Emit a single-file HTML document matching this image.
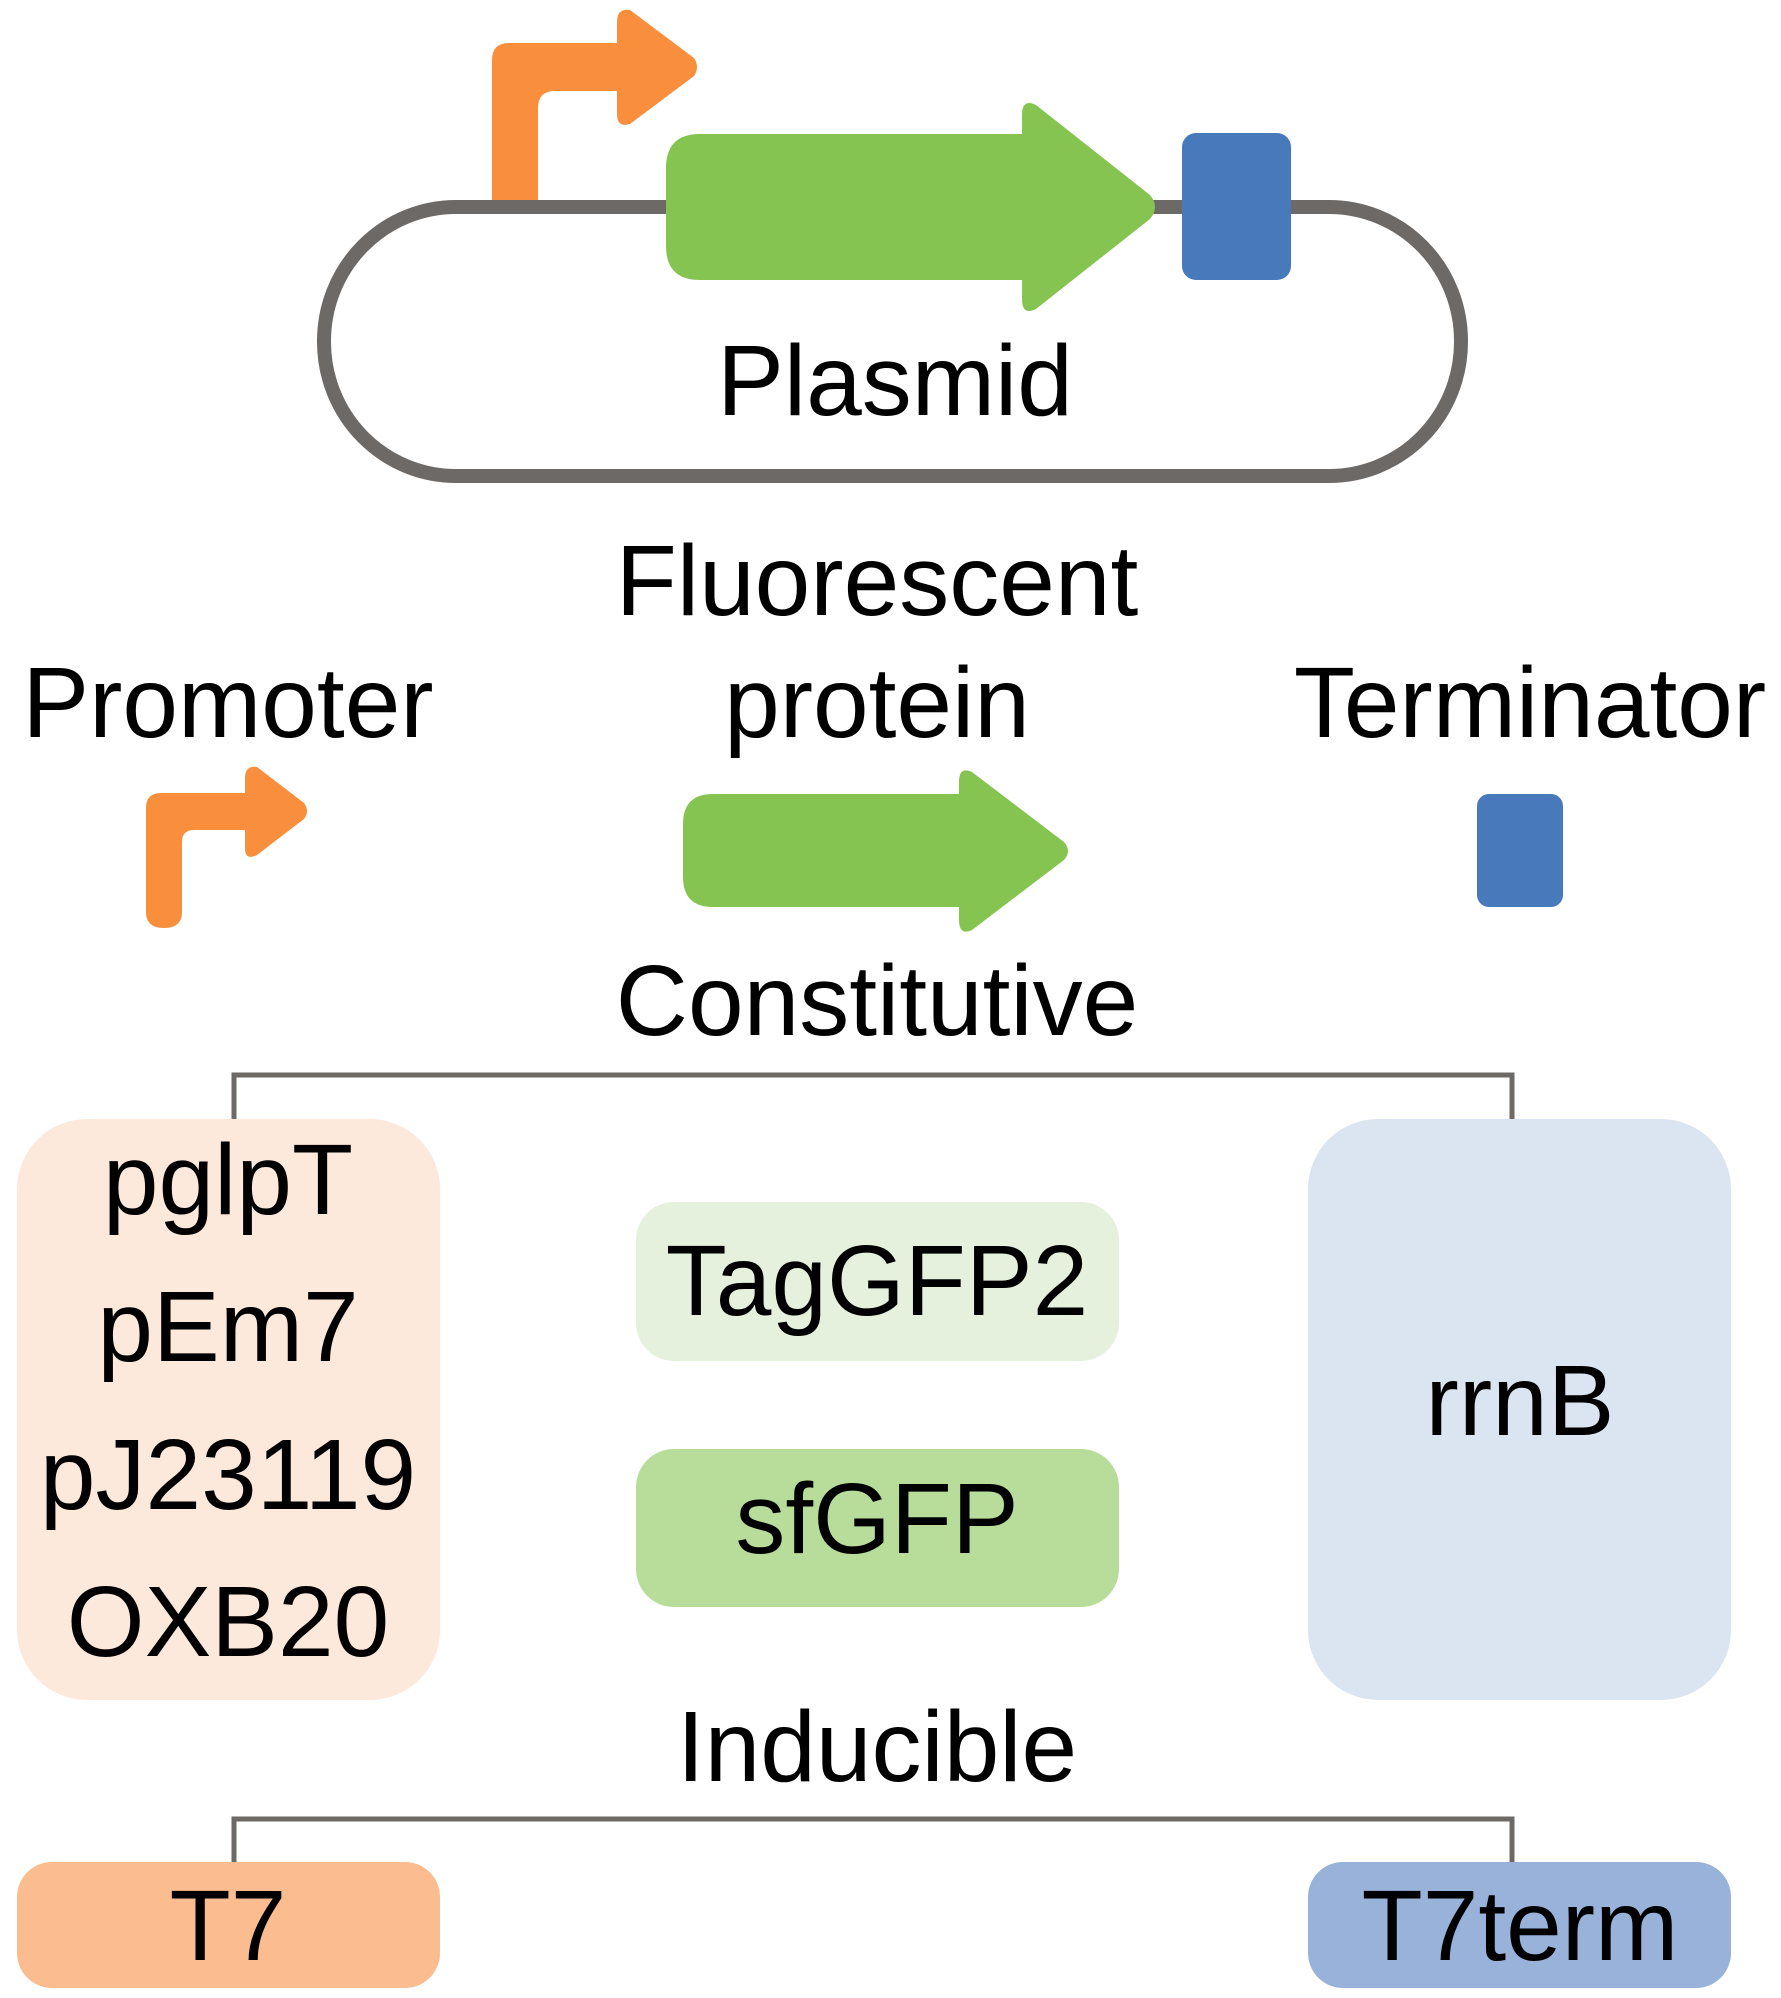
<!DOCTYPE html>
<html><head><meta charset="utf-8"><style>
html,body{margin:0;padding:0;background:#fff;}
svg{display:block;}
text{font-family:"Liberation Sans",Arial,sans-serif;font-size:100px;fill:#000;text-anchor:middle;}
</style></head><body>
<svg width="1781" height="1998" viewBox="0 0 1781 1998" xmlns="http://www.w3.org/2000/svg">
<rect x="324" y="207" width="1137" height="269" rx="132" ry="134" fill="none" stroke="#6d6966" stroke-width="14"/>
<path d="M492 200 V60 Q492 43 509 43 H617 V22 Q617 8 630 10 L694 58 Q700 67 694 76 L630 124 Q617 128 617 114 V91 H555 Q538 91 538 108 V200 Z" fill="#f98e3c"/>
<path d="M700 134 H1022 V115 Q1022 98 1036 105 L1150 195 Q1160 207 1150 219 L1036 309 Q1022 316 1022 299 V280 H700 Q666 280 666 246 V168 Q666 134 700 134 Z" fill="#86c451"/>
<rect x="1182" y="133" width="109" height="147" rx="14" fill="#487abb"/>
<text x="895" y="415">Plasmid</text>
<text x="877" y="615">Fluorescent</text>
<text x="877" y="737">protein</text>
<text x="228" y="737">Promoter</text>
<text x="1530" y="737">Terminator</text>
<path d="M146 912 V808 Q146 793 161 793 H245 V778 Q245 765 257 767 L304 803 Q310 811 304 819 L257 855 Q245 861 245 848 V830 H194 Q182 830 182 842 V912 Q182 928 164 928 Q146 928 146 912 Z" fill="#f98e3c"/>
<path d="M713 794 H959 V782 Q959 766 972 772 L1064 842 Q1072 851 1064 860 L972 930 Q959 936 959 920 V907 H713 Q683 907 683 877 V824 Q683 794 713 794 Z" fill="#86c451"/>
<rect x="1477" y="794" width="86" height="113" rx="12" fill="#487abb"/>
<text x="877" y="1035">Constitutive</text>
<polyline points="234,1119 234,1075 1512,1075 1512,1119" fill="none" stroke="#6d6966" stroke-width="5"/>
<rect x="17" y="1119" width="423" height="581" rx="70" fill="#fde8dc"/>
<text x="228" y="1214">pglpT</text>
<text x="228" y="1361">pEm7</text>
<text x="228" y="1509">pJ23119</text>
<text x="228" y="1656">OXB20</text>
<rect x="636" y="1202" width="483" height="159" rx="38" fill="#e6f1dd"/>
<text x="877" y="1315">TagGFP2</text>
<rect x="636" y="1449" width="483" height="158" rx="38" fill="#b8dd9a"/>
<text x="877" y="1553">sfGFP</text>
<rect x="1308" y="1119" width="423" height="581" rx="70" fill="#dbe4f1"/>
<text x="1520" y="1435">rrnB</text>
<text x="877" y="1781">Inducible</text>
<polyline points="234,1862 234,1819 1512,1819 1512,1862" fill="none" stroke="#6d6966" stroke-width="5"/>
<rect x="17" y="1862" width="423" height="126" rx="35" fill="#fbbd8f"/>
<text x="228" y="1960">T7</text>
<rect x="1308" y="1862" width="423" height="126" rx="35" fill="#98b2da"/>
<text x="1520" y="1960">T7term</text>
</svg>
</body></html>
